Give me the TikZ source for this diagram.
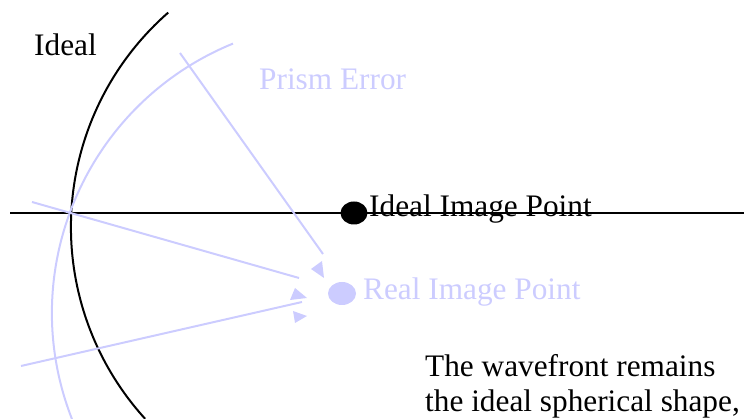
\documentclass[tikz,border=0pt]{standalone}
\usepackage{fontspec}
\setmainfont{Liberation Serif}
\definecolor{lightblue}{RGB}{204,204,255}
\begin{document}
\begin{tikzpicture}[x=1pt,y=1pt,
  lbl/.style={anchor=base west,inner sep=0pt,font=\fontsize{31.3}{35}\selectfont},
  wave/.style={line width=2pt},
  ray/.style={line width=2pt,draw=lightblue},
  tri/.style={fill=lightblue,draw=none}]
\useasboundingbox (0,0) rectangle (744,419);
% axis
\coordinate (axL) at (10,206);
\coordinate (axR) at (744,206);
\draw[wave] (axL) -- (axR);
% ideal wavefront
\draw[wave] (168.2,406.4) arc[start angle=131.2,end angle=222.3,radius=285];
% prism error wavefront
\draw[ray] (233,375.4) arc[start angle=112.2,end angle=201.4,radius=291];
% rays
\coordinate (r1a) at (180,366);
\coordinate (r1b) at (323,165);
\coordinate (r2a) at (32,217);
\coordinate (r2b) at (299,141);
\coordinate (r3a) at (21,53);
\coordinate (r3b) at (302,117);
\draw[ray] (r1a) -- (r1b);
\draw[ray] (r2a) -- (r2b);
\draw[ray] (r3a) -- (r3b);
% arrowheads
\fill[tri] (311,150) -- (322,158) -- (324,141) -- cycle;
\fill[tri] (290,119) -- (295,131) -- (307,121) -- cycle;
\fill[tri] (293,108) -- (295,96) -- (307,103) -- cycle;
% points
\fill[black] (354,206) ellipse[x radius=13.5,y radius=11.5];
\fill[lightblue] (342,125.5) ellipse[x radius=14,y radius=11.5];
% labels
\node[lbl] (ideal) at (34,363) {Ideal};
\node[lbl,text=lightblue] (prism) at (259,329) {Prism Error};
\node[lbl] (iip) at (369,202) {Ideal Image Point};
\node[lbl,text=lightblue] (rip) at (363,119) {Real Image Point};
\node[lbl] (w1) at (425,42) {The wavefront remains};
\node[lbl] (w2) at (425,7) {the ideal spherical shape,};
\end{tikzpicture}
\end{document}
